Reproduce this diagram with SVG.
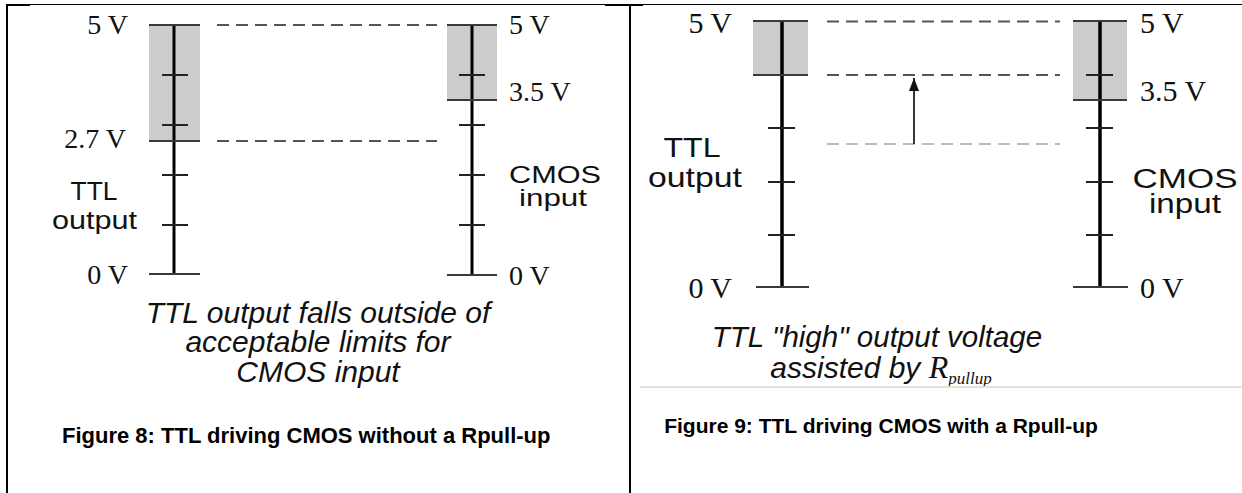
<svg xmlns="http://www.w3.org/2000/svg" width="1242" height="493" viewBox="0 0 1242 493">
<defs>
<style>
.zone{fill:#cccccc;stroke:none}
.axis{stroke:#000;stroke-width:3}
.axis2{stroke:#000;stroke-width:3.5}
.bar{stroke:#3a3a3a;stroke-width:2.2}
.tick{stroke:#222;stroke-width:2}
.dash{stroke:#555;stroke-width:2;stroke-dasharray:12 7;fill:none}
.dashl{stroke:#bbbbbb;stroke-width:2;stroke-dasharray:12 7;fill:none}
.serif{font-family:"Liberation Serif","Times New Roman",serif;fill:#111}
.sans{font-family:"Liberation Sans",Arial,sans-serif;fill:#111}
.ital{font-family:"Liberation Sans",Arial,sans-serif;font-style:italic;fill:#111}
.fig{font-family:"Liberation Sans",Arial,sans-serif;font-weight:bold;fill:#000}
.frame{stroke:#000;fill:none}
</style>
<marker id="arrow" viewBox="0 0 13 10" refX="13" refY="5" markerWidth="13" markerHeight="10" markerUnits="userSpaceOnUse" orient="auto">
<path d="M0,0 L13,5 L0,10 z" fill="#111"/>
</marker>
</defs>
<rect width="1242" height="493" fill="#fff"/>
<g id="frame">
<line class="frame" x1="6" y1="4.5" x2="1242" y2="4.5" stroke-width="1"/>
<line class="frame" x1="6" y1="5" x2="30" y2="5" stroke-width="2"/>
<line class="frame" x1="605" y1="5" x2="643" y2="5" stroke-width="2"/>
<line class="frame" x1="7" y1="4" x2="7" y2="493" stroke-width="2"/>
<line class="frame" x1="630" y1="4" x2="630" y2="493" stroke-width="2"/>
</g>
<g id="connectors">
<line class="dash" x1="217" y1="25" x2="437" y2="25"/>
<line class="dash" x1="217" y1="141" x2="437" y2="141"/>
<line class="dash" x1="827" y1="21.5" x2="1060" y2="21.5"/>
<line class="dash" x1="827" y1="75" x2="1060" y2="75"/>
<line class="dashl" x1="827" y1="144" x2="1060" y2="144"/>
<line x1="914" y1="144" x2="914" y2="78" stroke="#222" stroke-width="1.8" marker-end="url(#arrow)"/>
</g>
<g id="ttl-scale-1">
<rect class="zone" x="149" y="25" width="51" height="116"/>
<line class="axis" x1="174" y1="25" x2="174" y2="274"/>
<line class="bar" x1="149" y1="25" x2="200" y2="25"/>
<line class="bar" x1="149" y1="141" x2="200" y2="141"/>
<line class="bar" x1="149" y1="274" x2="200" y2="274"/>
<line class="tick" x1="162" y1="75" x2="188" y2="75"/>
<line class="tick" x1="162" y1="125" x2="188" y2="125"/>
<line class="tick" x1="162" y1="175" x2="188" y2="175"/>
<line class="tick" x1="162" y1="225" x2="188" y2="225"/>
<text class="serif" x="128" y="34" font-size="28" text-anchor="end">5 V</text>
<text class="serif" x="126" y="148" font-size="28" text-anchor="end">2.7 V</text>
<text class="serif" x="128" y="284" font-size="28" text-anchor="end">0 V</text>
<text class="sans" x="94" y="200" font-size="26" text-anchor="middle" textLength="47" lengthAdjust="spacingAndGlyphs">TTL</text>
<text class="sans" x="94.5" y="229" font-size="26" text-anchor="middle" textLength="85" lengthAdjust="spacingAndGlyphs">output</text>
</g>
<g id="cmos-scale-1">
<rect class="zone" x="447" y="25" width="50" height="75"/>
<line class="axis" x1="472" y1="25" x2="472" y2="275"/>
<line class="bar" x1="447" y1="25" x2="497" y2="25"/>
<line class="bar" x1="447" y1="100" x2="497" y2="100"/>
<line class="bar" x1="447" y1="275" x2="497" y2="275"/>
<line class="tick" x1="459" y1="75" x2="485" y2="75"/>
<line class="tick" x1="459" y1="125" x2="485" y2="125"/>
<line class="tick" x1="459" y1="175" x2="485" y2="175"/>
<line class="tick" x1="459" y1="225" x2="485" y2="225"/>
<text class="serif" x="509" y="34" font-size="28">5 V</text>
<text class="serif" x="509" y="101" font-size="28">3.5 V</text>
<text class="serif" x="509" y="285" font-size="28">0 V</text>
<text class="sans" x="555" y="183" font-size="24" text-anchor="middle" textLength="92" lengthAdjust="spacingAndGlyphs">CMOS</text>
<text class="sans" x="553" y="206" font-size="24" text-anchor="middle" textLength="68" lengthAdjust="spacingAndGlyphs">input</text>
</g>
<g id="caption-1">
<text class="ital" x="318" y="323" font-size="30" text-anchor="middle">TTL output falls outside of</text>
<text class="ital" x="318" y="352" font-size="30" text-anchor="middle">acceptable limits for</text>
<text class="ital" x="318" y="382" font-size="30" text-anchor="middle">CMOS input</text>
<text class="fig" x="62" y="443" font-size="22">Figure 8: TTL driving CMOS without a Rpull-up</text>
</g>
<g id="ttl-scale-2">
<rect class="zone" x="753" y="21" width="55" height="54"/>
<line class="axis2" x1="782" y1="21" x2="782" y2="287"/>
<line class="bar" x1="753" y1="21" x2="808" y2="21"/>
<line class="bar" x1="753" y1="75" x2="808" y2="75"/>
<line class="bar" x1="756" y1="287" x2="809" y2="287"/>
<line class="tick" x1="768" y1="128" x2="795" y2="128"/>
<line class="tick" x1="768" y1="182" x2="795" y2="182"/>
<line class="tick" x1="768" y1="235" x2="795" y2="235"/>
<text class="serif" x="732" y="33" font-size="30" text-anchor="end">5 V</text>
<text class="serif" x="732" y="298" font-size="30" text-anchor="end">0 V</text>
<text class="sans" x="692" y="157" font-size="28" text-anchor="middle" textLength="57" lengthAdjust="spacingAndGlyphs">TTL</text>
<text class="sans" x="695" y="187" font-size="28" text-anchor="middle" textLength="94" lengthAdjust="spacingAndGlyphs">output</text>
</g>
<g id="cmos-scale-2">
<rect class="zone" x="1073" y="21" width="54" height="79"/>
<line class="axis2" x1="1100" y1="21" x2="1100" y2="287"/>
<line class="bar" x1="1073" y1="21" x2="1127" y2="21"/>
<line class="bar" x1="1073" y1="100" x2="1127" y2="100"/>
<line class="bar" x1="1073" y1="287" x2="1128" y2="287"/>
<line class="tick" x1="1086" y1="75" x2="1113" y2="75"/>
<line class="tick" x1="1086" y1="128" x2="1113" y2="128"/>
<line class="tick" x1="1086" y1="182" x2="1113" y2="182"/>
<line class="tick" x1="1086" y1="235" x2="1113" y2="235"/>
<text class="serif" x="1140" y="33" font-size="30">5 V</text>
<text class="serif" x="1140" y="101" font-size="30">3.5 V</text>
<text class="serif" x="1140" y="298" font-size="30">0 V</text>
<text class="sans" x="1185" y="188" font-size="27" text-anchor="middle" textLength="105" lengthAdjust="spacingAndGlyphs">CMOS</text>
<text class="sans" x="1185" y="213" font-size="27" text-anchor="middle" textLength="72" lengthAdjust="spacingAndGlyphs">input</text>
</g>
<g id="caption-2">
<text class="ital" x="877" y="347" font-size="29.5" text-anchor="middle">TTL "high" output voltage</text>
<text x="881" y="378" text-anchor="middle"><tspan class="ital" font-size="30">assisted by </tspan><tspan class="serif" font-style="italic" font-size="32">R</tspan><tspan class="serif" font-style="italic" font-size="17" dy="6">pullup</tspan></text>
<line x1="640" y1="387" x2="1242" y2="387" stroke="#e6e2d3" stroke-width="2"/>
<text class="fig" x="881" y="433" font-size="21" text-anchor="middle">Figure 9: TTL driving CMOS with a Rpull-up</text>
</g>
</svg>
